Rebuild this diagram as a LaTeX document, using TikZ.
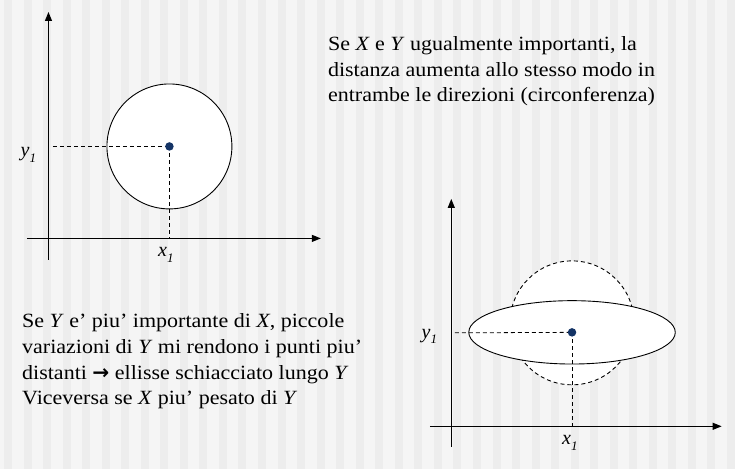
\documentclass[tikz,border=0pt]{standalone}
\usepackage{fontspec}
\setmainfont{Liberation Serif}
\newfontfamily\parafont{Liberation Serif}[FakeStretch=1.09]
\newfontfamily\arrowfont{DejaVu Sans}
\usetikzlibrary{arrows.meta}
\definecolor{bglight}{HTML}{F5F5F5}
\definecolor{bgdark}{HTML}{EDEDED}
\definecolor{dotblue}{HTML}{143466}
\newcommand{\sublbl}[2]{\textit{#1}\raisebox{-0.28em}{\fontsize{13}{13}\selectfont\itshape #2}}
\begin{document}
\begin{tikzpicture}[x=1pt,y=-1pt,
  axis/.style={line width=1.1pt,-{Triangle[length=9pt,width=7pt]}},
  guide/.style={dash pattern=on 4pt off 3pt, line width=0.8pt},
  outline/.style={draw, line width=0.9pt, fill=white},
  dashedoutline/.style={draw, line width=0.9pt, fill=white, dash pattern=on 4pt off 3pt},
  pt/.style={circle, fill=dotblue, inner sep=0pt, minimum size=8.5pt},
  lbl/.style={font=\fontsize{20}{24}\selectfont, inner sep=0pt, anchor=base west},
  para/.style={font=\parafont\fontsize{20.2}{25.7}\selectfont, align=left, inner sep=0pt, anchor=base west}]
\fill[bglight] (0,0) rectangle (735,469);
\foreach \i in {0,...,37} \fill[bgdark] ({4+19.55*\i},0) rectangle ({12+19.55*\i},469);
\useasboundingbox (0,0) rectangle (735,469);
% left plot
\coordinate (yAb) at (48.5,260); \coordinate (yAt) at (48.5,12);
\coordinate (xAl) at (27,238.5); \coordinate (xAr) at (321,238.5);
\draw[axis] (yAb) -- (yAt);
\draw[axis] (xAl) -- (xAr);
\coordinate (c1) at (169.5,146.5);
\draw[outline] (c1) circle[radius=62.5];
\coordinate (h1) at (53,146.5); \coordinate (v1) at (169.5,238.5);
\draw[guide] (h1) -- (c1);
\draw[guide] (c1) -- (v1);
\node[pt] (p1) at (c1) {};
\node[lbl] (ly1) at (20.5,157) {\sublbl{y}{1}};
\node[lbl] (lx1) at (158,257) {\sublbl{x}{1}};
% right plot
\coordinate (yBb) at (451.5,447); \coordinate (yBt) at (451.5,199);
\coordinate (xBl) at (430,426.5); \coordinate (xBr) at (722,426.5);
\draw[axis] (yBb) -- (yBt);
\draw[axis] (xBl) -- (xBr);
\coordinate (cc2) at (572.3,323);
\coordinate (c2) at (572.3,332.5);
\draw[dashedoutline] (cc2) circle[radius=62];
\draw[outline] (c2) ellipse[x radius=103.3, y radius=31.7];
\coordinate (h2) at (455,333); \coordinate (v2) at (572.3,426.5);
\draw[guide] (h2) -- (c2);
\draw[guide] (c2) -- (v2);
\node[pt] (p2) at (c2) {};
\node[lbl] (ly2) at (421.7,338.5) {\sublbl{y}{1}};
\node[lbl] (lx2) at (562.3,445) {\sublbl{x}{1}};
% texts (anchor = baseline of the last line)
\node[para] (t1) at (328,102) {Se \textit{X} e \textit{Y} ugualmente importanti, la\\distanza aumenta allo stesso modo in\\entrambe le direzioni (circonferenza)};
\node[para] (t2) at (22,405) {Se \textit{Y} e’ piu’ importante di \textit{X}, piccole\\variazioni di \textit{Y} mi rendono i punti piu’\\distanti {\arrowfont\bfseries →} ellisse schiacciato lungo \textit{Y}\\Viceversa se \textit{X} piu’ pesato di \textit{Y}};
\end{tikzpicture}
\end{document}
